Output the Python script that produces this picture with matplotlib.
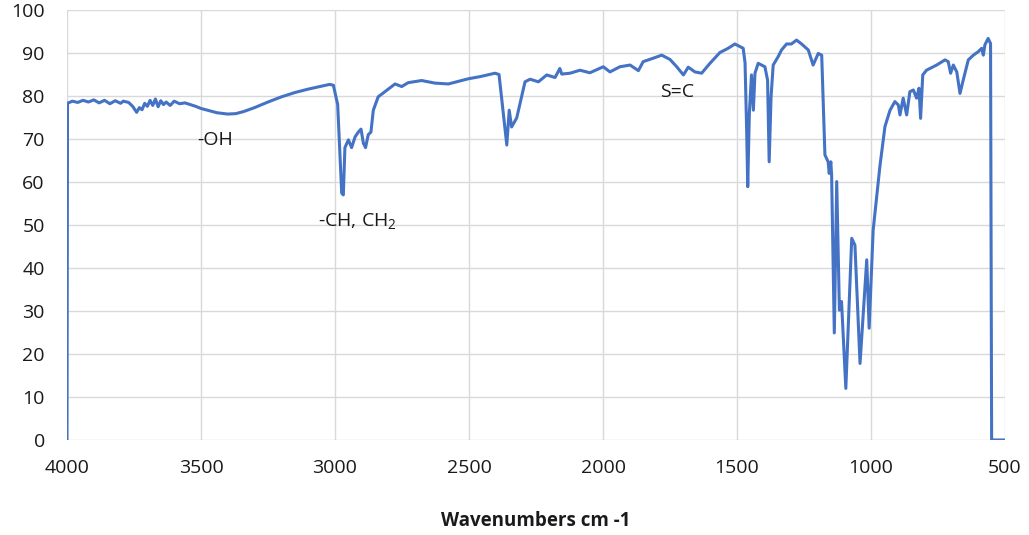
# IR spectrum (transmittance vs wavenumber)
import matplotlib
matplotlib.use("Agg")
import matplotlib.pyplot as plt

plt.rcParams['font.family'] = ['Open Sans', 'DejaVu Sans']

# wavenumber [cm-1] and transmittance [%]
wavenumber = [
    4000, 3998, 3980, 3960, 3940, 3920, 3900, 3880, 3860, 3840, 3820, 3800,
    3790, 3770, 3755, 3740, 3730, 3720, 3710, 3700, 3690, 3680, 3670, 3660,
    3650, 3640, 3630, 3615, 3600, 3580, 3560, 3540, 3520, 3500, 3470, 3440,
    3400, 3370, 3340, 3300, 3250, 3200, 3150, 3100, 3050, 3020, 3006, 2990,
    2981, 2975, 2969, 2963, 2950, 2938, 2925, 2913, 2903, 2894, 2886, 2876,
    2866, 2857, 2839, 2814, 2776, 2751, 2727, 2677, 2627, 2577, 2503, 2459,
    2403, 2388, 2372, 2359, 2350, 2341, 2322, 2304, 2291, 2272, 2241, 2210,
    2179, 2161, 2154, 2123, 2086, 2049, 1999, 1974, 1937, 1899, 1868, 1850,
    1812, 1781, 1750, 1725, 1700, 1682, 1657, 1632, 1601, 1564, 1533, 1508,
    1489, 1477, 1470, 1464, 1460, 1454, 1446, 1439, 1433, 1421, 1396, 1386,
    1380, 1373, 1365, 1346, 1334, 1315, 1297, 1278, 1259, 1234, 1216, 1197,
    1184, 1172, 1160, 1156, 1150, 1147, 1137, 1128, 1118, 1110, 1094, 1072,
    1060, 1041, 1016, 1007, 992, 967, 948, 929, 911, 898, 892, 880, 867, 855,
    842, 830, 821, 815, 807, 793, 755, 724, 712, 703, 693, 680, 668, 656, 637,
    618, 600, 587, 581, 575, 563, 554, 550, 500,
]
transmittance = [
    0, 78.3, 78.8, 78.5, 79.0, 78.6, 79.1, 78.4, 79.0, 78.2, 78.9, 78.3,
    78.8, 78.5, 77.6, 76.2, 77.3, 76.8, 78.3, 77.6, 79.0, 77.8, 79.3, 77.5,
    78.9, 78.0, 78.6, 77.8, 78.8, 78.2, 78.4, 78.0, 77.6, 77.1, 76.6, 76.1,
    75.8, 75.9, 76.4, 77.3, 78.6, 79.8, 80.8, 81.6, 82.3, 82.7, 82.5, 78.0,
    65.8, 57.4, 57.0, 68.0, 69.8, 68.0, 70.5, 71.6, 72.3, 69.0, 68.0, 71.0,
    71.6, 76.7, 79.8, 81.0, 82.8, 82.2, 83.1, 83.6, 83.0, 82.8, 84.0, 84.5,
    85.3, 85.0, 76.0, 68.6, 76.7, 72.8, 74.9, 79.8, 83.3, 83.9, 83.3, 84.9,
    84.3, 86.4, 85.1, 85.3, 86.0, 85.4, 86.8, 85.6, 86.8, 87.2, 85.9, 88.0,
    88.8, 89.5, 88.5, 86.8, 84.9, 86.7, 85.6, 85.3, 87.6, 90.1, 91.1, 92.1,
    91.5, 91.1, 87.7, 72.0, 58.9, 76.0, 84.9, 76.7, 85.3, 87.6, 86.8, 83.7,
    64.7, 79.8, 87.2, 89.2, 90.7, 92.1, 92.1, 93.0, 92.1, 90.7, 87.2, 89.9,
    89.5, 66.3, 64.7, 62.0, 64.7, 61.6, 24.9, 60.1, 30.2, 32.2, 12.0, 46.9,
    45.3, 17.8, 41.9, 26.0, 48.8, 63.6, 72.9, 76.7, 78.7, 77.9, 75.6, 79.5,
    75.6, 81.0, 81.4, 79.5, 81.8, 74.8, 84.9, 86.0, 87.2, 88.4, 88.0, 85.3,
    87.2, 85.6, 80.6, 83.7, 88.4, 89.5, 90.3, 91.1, 89.5, 91.9, 93.4, 92.2,
    0, 0,
]

# peak labels: text, wavenumber, transmittance
labels = ["-OH", "-CH, CH$_\\mathregular{2}$", "S=C"]
label_x = [3448, 2918, 1724]
label_y = [69.8, 50.7, 80.9]

fig = plt.figure(figsize=(10.29, 5.35), dpi=100)
ax = fig.add_axes([0.0651, 0.1776, 0.9116, 0.8037])

ax.plot(wavenumber, transmittance, color="#4472C4", linewidth=2.2)

for t, x, y in zip(labels, label_x, label_y):
    ax.text(x, y, t, ha="center", va="center", fontsize=14, color="#1a1a1a")

ax.set_xlim(4000, 500)
ax.set_ylim(0, 100)
ax.set_xticks(range(4000, 499, -500))
ax.set_yticks(range(0, 101, 10))
ax.grid(True, color="#d9d9d9", linewidth=1)
ax.set_axisbelow(True)
for s in ax.spines.values():
    s.set_visible(False)
ax.tick_params(length=0, labelsize=14, colors="#1a1a1a")
ax.tick_params(axis="y", pad=16)
ax.tick_params(axis="x", pad=14)
ax.set_xlabel("Wavenumbers cm -1", fontsize=13.5, fontweight="bold",
              labelpad=24, color="#1a1a1a")

fig.savefig("out.png", dpi=100)
